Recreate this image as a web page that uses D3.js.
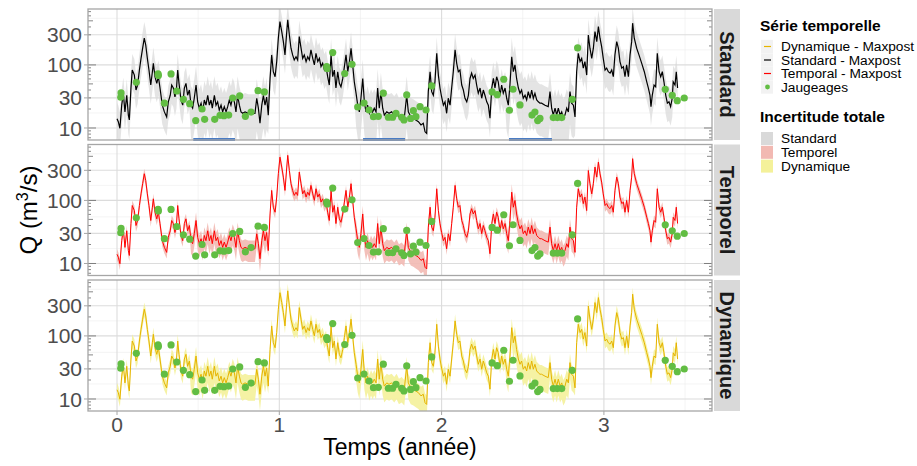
<!DOCTYPE html>
<html>
<head>
<meta charset="utf-8">
<script src="https://cdn.jsdelivr.net/npm/d3@7"></script>
<style>
  body { margin: 0; background: #fff; }
  svg { font-family: "Liberation Sans", Arial, sans-serif; }
</style>
</head>
<body>
<div id="chart"></div>
<script>
// --- données ---
const panneaux = ["Standard", "Temporel", "Dynamique"];

const temps = [0.000,0.008,0.018,0.029,0.039,0.049,0.060,0.070,0.076,0.086,0.094,0.107,0.117,0.127,0.138,0.148,0.158,0.168,0.177,0.187,
  0.197,0.208,0.218,0.224,0.234,0.245,0.255,0.265,0.279,0.292,0.306,0.316,0.328,0.337,0.347,0.357,0.366,0.374,0.382,0.394,
  0.405,0.415,0.425,0.435,0.446,0.456,0.466,0.476,0.487,0.497,0.507,0.518,0.528,0.538,0.548,0.559,0.569,0.579,0.587,0.600,
  0.610,0.620,0.630,0.641,0.651,0.661,0.672,0.682,0.692,0.702,0.713,0.723,0.733,0.743,0.754,0.764,0.774,0.789,0.809,0.830,
  0.850,0.861,0.871,0.881,0.892,0.902,0.912,0.922,0.932,0.943,0.953,0.963,0.974,0.984,0.994,1.004,1.015,1.025,1.035,1.046,
  1.052,1.062,1.072,1.082,1.092,1.103,1.113,1.123,1.134,1.144,1.154,1.165,1.175,1.185,1.195,1.206,1.216,1.226,1.237,1.247,
  1.257,1.267,1.278,1.288,1.298,1.308,1.319,1.329,1.339,1.349,1.360,1.370,1.380,1.391,1.401,1.411,1.422,1.432,1.442,1.452,
  1.462,1.473,1.483,1.493,1.503,1.514,1.524,1.534,1.544,1.555,1.565,1.575,1.585,1.596,1.606,1.616,1.626,1.637,1.647,1.662,
  1.676,1.692,1.708,1.723,1.737,1.754,1.770,1.785,1.795,1.810,1.826,1.841,1.857,1.873,1.887,1.898,1.908,1.918,1.929,1.939,
  1.949,1.959,1.970,1.980,1.990,2.000,2.011,2.021,2.031,2.041,2.052,2.062,2.072,2.083,2.093,2.103,2.113,2.124,2.134,2.144,
  2.155,2.165,2.175,2.185,2.195,2.206,2.216,2.226,2.237,2.247,2.257,2.267,2.278,2.288,2.298,2.309,2.319,2.329,2.339,2.349,
  2.360,2.370,2.380,2.391,2.401,2.411,2.421,2.432,2.442,2.452,2.462,2.473,2.483,2.493,2.503,2.514,2.524,2.534,2.545,2.555,
  2.565,2.575,2.586,2.596,2.606,2.616,2.637,2.657,2.668,2.678,2.688,2.699,2.709,2.719,2.730,2.740,2.750,2.760,2.771,2.781,
  2.791,2.801,2.812,2.822,2.832,2.842,2.853,2.863,2.873,2.883,2.894,2.904,2.914,2.925,2.935,2.945,2.956,2.966,2.976,2.986,
  2.996,3.007,3.017,3.027,3.038,3.048,3.058,3.068,3.079,3.089,3.099,3.110,3.120,3.130,3.140,3.151,3.161,3.171,3.177,3.187,
  3.202,3.216,3.233,3.249,3.264,3.274,3.284,3.290,3.298,3.309,3.319,3.329,3.340,3.350,3.360,3.370,3.381,3.391,3.401,3.411,
  3.421,3.427,3.438,3.446,3.454];

// débit maxpost (m3/s) - les trois modèles se superposent quasiment
const qMaxpost = [14,12.6,9.9,23,35,18,33,16,13.4,43,83,69,40,48,83,127,184,265,207,127,
  83,48,78,106,65,51,65,43,23,18,15,26,33,48,43,31,40,83,51,28,
  23,43,51,33,40,23,20.6,29.6,48,26,20.6,24.7,18,27.8,23,33,23,27.8,20.6,33,
  23,26,19.3,23,18,21.8,18,21.8,27.8,23,31,26,18,33,23,18,17.1,18,17.1,17.1,
  17.1,29.6,20.6,11.9,23,33,23,31,16,61,144,78,65,113,265,485,338,234,144,338,
  518,298,184,144,120,135,120,281,184,127,144,113,135,120,173,127,100,153,113,127,
  94,106,83,94,65,48,144,65,83,43,78,51,45,61,94,144,78,113,184,100,
  54,35.5,23,18,29.6,61,26,18,23,17.1,20.6,18,20.6,18,43,20.6,37.7,20.6,16,18,
  17.1,18,16,18,15,16,14.3,33,18,15,14.3,13.4,12.6,11.2,11.9,8.7,8.2,37.7,78,37.7,
  33,54,153,69,43,31,23,26,17.1,29.6,23,43,78,173,106,78,83,48,40,29.6,
  26,33,61,74,61,69,48,35.5,43,29.6,40,33,26,23,14.3,43,61,43,65,54,
  33,48,35.5,43,29.6,23,48,135,78,100,61,43,35.5,40,29.6,33,27.8,37.7,29.6,40,
  29.6,35.5,27.8,26,24.7,24.7,23,21.8,37.7,20.6,16,20.6,16,20.6,16,18,14.3,16,20.6,18,
  37.7,24.7,23,15,78,153,113,127,89,113,69,298,184,127,184,338,234,405,265,195,
  127,83,89,78,74,83,65,144,234,184,113,89,94,65,100,65,144,234,459,265,
  184,144,106,78,54,43,33,21.8,33,48,45,153,78,65,78,54,33,24.7,26,21.8,
  29.6,54,48,78,43];

// jaugeages
const tJaug = [0.023,0.025,0.119,0.253,0.255,0.292,0.333,0.368,0.409,0.448,0.485,0.524,0.540,0.602,0.635,0.659,0.688,0.713,0.756,0.791,
  0.826,0.869,0.908,1.292,1.295,1.329,1.403,1.448,1.483,1.522,1.553,1.580,1.610,1.641,1.672,1.698,1.719,1.754,1.768,1.785,
  1.809,1.826,1.842,1.867,1.904,1.939,2.311,2.343,2.383,2.418,2.440,2.483,2.557,2.575,2.592,2.606,2.688,2.713,2.740,2.805,
  2.838,3.378,3.421,3.452,3.495];
const qJaug = [30.7,36,53,72,68,24.7,72,38.6,28.5,24.3,13.1,20,13.7,13.7,15.9,15.7,16,29.9,32.2,15.3,
  17.9,39,37.3,94,88,157,72.8,102,21.5,24.9,19.3,15.1,15.3,35.6,14.8,14.8,17.1,14.8,13.4,33.4,
  14.2,18.8,15.1,21.8,19.3,46.4,37.3,33.8,59.3,19.1,41.1,23.2,16,17.9,13.1,14.2,14.6,14.6,14.6,28.5,
  186,41,33,27.1,29.9];

// saisons (début) et type : crue / étiage
const saisonDebut = [0, 0.45, 0.93, 1.47, 1.92, 2.40, 2.82];
const saisonEtiage = [false, true, false, true, false, true, false];

// facteurs de l'incertitude totale [Standard, Temporel, Dynamique]
const basCrue = [0.5, 0.8, 0.76];
const hautCrue = [1.8, 1.2, 1.28];
const basEtiage = [0.3, 0.62, 0.55];
const hautEtiage = [2.0, 1.35, 1.4];

// périodes en bleu (panneau Standard)
const periodesDebut = [0.47, 1.516, 2.415];
const periodesFin = [0.727, 1.775, 2.68];

const xTicks = [0, 1, 2, 3];
const yTicks = [10, 30, 100, 300];

const couleurLigne = ["#000000", "#ff0000", "#e6b400"];
const couleurBande = ["#d9d9d9", "#f2b9b2", "#f4f19a"];
const couleurJaug = "#62bd43";

// --- mise en page ---
const width = 917, height = 466;
const left = 88, right = 712, panelH = 131;
const tops = [9, 144.5, 280];

const svg = d3.select("#chart").append("svg")
    .attr("width", width).attr("height", height);

const x = d3.scaleLinear().domain([-0.1787, 3.666]).range([left, right]);
const y = d3.scaleLog().domain([6.45, 770]).range([panelH, 0]);

function etiage(t) {
    let k = 0;
    saisonDebut.forEach((d, i) => { if (t >= d) k = i; });
    return saisonEtiage[k];
}

const serie = temps.map((t, i) => ({t: t, q: qMaxpost[i], e: etiage(t)}));
const jaug = tJaug.map((t, i) => ({t: t, q: qJaug[i]}));

const xMinor = [-0.5, 0.5, 1.5, 2.5, 3.5];
const yMinor = [17.3, 54.8, 173, 548];
const logTicks = [];
[1, 10, 100].forEach(p => d3.range(1, 10).forEach(m => {
    const v = m * p;
    if (v >= 6.45 && v <= 770) logTicks.push({v: v, len: m === 1 ? 8 : (m === 5 ? 5 : 3)});
}));

panneaux.forEach((nom, k) => {
    const g = svg.append("g").attr("transform", "translate(0," + tops[k] + ")");

    g.append("clipPath").attr("id", "clip" + k)
      .append("rect").attr("x", left).attr("y", 0).attr("width", right - left).attr("height", panelH);

    // grille
    g.selectAll(".gmx").data(xMinor.filter(d => x(d) > left && x(d) < right)).enter().append("line")
        .attr("x1", d => x(d)).attr("x2", d => x(d)).attr("y1", 0).attr("y2", panelH)
        .attr("stroke", "#ededed").attr("stroke-width", 0.6);
    g.selectAll(".gmy").data(yMinor).enter().append("line")
        .attr("x1", left).attr("x2", right).attr("y1", d => y(d)).attr("y2", d => y(d))
        .attr("stroke", "#ededed").attr("stroke-width", 0.6);
    g.selectAll(".gx").data(xTicks).enter().append("line")
        .attr("x1", d => x(d)).attr("x2", d => x(d)).attr("y1", 0).attr("y2", panelH)
        .attr("stroke", "#dcdcdc").attr("stroke-width", 1.1);
    g.selectAll(".gy").data(yTicks).enter().append("line")
        .attr("x1", left).attr("x2", right).attr("y1", d => y(d)).attr("y2", d => y(d))
        .attr("stroke", "#dcdcdc").attr("stroke-width", 1.1);

    const plot = g.append("g").attr("clip-path", "url(#clip" + k + ")");

    // bande d'incertitude
    const bande = d3.area()
        .x(d => x(d.t))
        .y0(d => y(d.q * (d.e ? basEtiage[k] : basCrue[k])))
        .y1(d => y(d.q * (d.e ? hautEtiage[k] : hautCrue[k])));
    plot.append("path").datum(serie)
        .attr("d", bande)
        .attr("fill", couleurBande[k])
        .attr("fill-opacity", k === 0 ? 0.7 : 0.9);

    // maxpost
    plot.append("path").datum(serie)
        .attr("d", d3.line().x(d => x(d.t)).y(d => y(d.q)))
        .attr("fill", "none")
        .attr("stroke", couleurLigne[k])
        .attr("stroke-width", k === 0 ? 1.2 : 1);

    // jaugeages
    plot.selectAll("circle").data(jaug).enter().append("circle")
        .attr("cx", d => x(d.t)).attr("cy", d => y(d.q)).attr("r", 3.6)
        .attr("fill", couleurJaug);

    if (k === 0) {
        g.selectAll(".per").data(periodesDebut).enter().append("line")
            .attr("x1", d => x(d)).attr("x2", (d, i) => x(periodesFin[i]))
            .attr("y1", panelH - 0.5).attr("y2", panelH - 0.5)
            .attr("stroke", "#4a7cc4").attr("stroke-width", 3);
    }

    // graduations logarithmiques (gauche et droite)
    g.selectAll(".ltl").data(logTicks).enter().append("line")
        .attr("x1", left).attr("x2", d => left + d.len).attr("y1", d => y(d.v)).attr("y2", d => y(d.v))
        .attr("stroke", "#555").attr("stroke-width", 0.7);
    g.selectAll(".ltr").data(logTicks).enter().append("line")
        .attr("x1", right).attr("x2", d => right - d.len).attr("y1", d => y(d.v)).attr("y2", d => y(d.v))
        .attr("stroke", "#555").attr("stroke-width", 0.7);

    // cadre
    g.append("rect").attr("x", left).attr("y", 0).attr("width", right - left).attr("height", panelH)
        .attr("fill", "none").attr("stroke", "#a6a6a6").attr("stroke-width", 1.3);

    // axe y
    g.selectAll(".ty").data(yTicks).enter().append("line")
        .attr("x1", left - 4).attr("x2", left).attr("y1", d => y(d)).attr("y2", d => y(d))
        .attr("stroke", "#a6a6a6").attr("stroke-width", 1);
    g.selectAll(".ly").data(yTicks).enter().append("text")
        .attr("x", left - 6).attr("y", d => y(d)).attr("dy", "0.36em")
        .attr("text-anchor", "end").attr("font-size", 21).attr("fill", "#4d4d4d")
        .text(d => d);

    // bandeau
    g.append("rect").attr("x", 714).attr("y", 0).attr("width", 26).attr("height", panelH)
        .attr("fill", "#d9d9d9");
    g.append("text")
        .attr("transform", "translate(727," + (panelH / 2) + ") rotate(90)")
        .attr("text-anchor", "middle").attr("dy", "0.36em")
        .attr("font-size", 20).attr("font-weight", "bold").attr("fill", "#1a1a1a")
        .text(nom);
});

// axe x
const bas = tops[2] + panelH;
svg.selectAll(".tx").data(xTicks).enter().append("line")
    .attr("x1", d => x(d)).attr("x2", d => x(d)).attr("y1", bas).attr("y2", bas + 4)
    .attr("stroke", "#a6a6a6");
svg.selectAll(".lx").data(xTicks).enter().append("text")
    .attr("x", d => x(d)).attr("y", bas + 21)
    .attr("text-anchor", "middle").attr("font-size", 21).attr("fill", "#4d4d4d")
    .text(d => d);

svg.append("text").attr("x", (left + right) / 2).attr("y", 455)
    .attr("text-anchor", "middle").attr("font-size", 23).attr("fill", "#000")
    .text("Temps (année)");

const yt = svg.append("text")
    .attr("transform", "translate(37," + ((tops[0] + bas) / 2) + ") rotate(-90)")
    .attr("text-anchor", "middle").attr("font-size", 24).attr("fill", "#000");
yt.append("tspan").text("Q (m");
yt.append("tspan").attr("font-size", 16).attr("dy", -9).text("3");
yt.append("tspan").attr("dy", 9).text("/s)");

// légende
const leg = svg.append("g").attr("font-size", 13.7);
leg.append("text").attr("x", 760).attr("y", 31).attr("font-size", 15.5).attr("font-weight", "bold")
    .text("Série temporelle");
const legSeries = ["Dynamique - Maxpost", "Standard - Maxpost", "Temporal - Maxpost", "Jaugeages"];
const legCouleurs = ["#e6b400", "#000000", "#ff0000", couleurJaug];
legSeries.forEach((s, i) => {
    const cy = 46.5 + i * 13.5;
    leg.append("rect").attr("x", 761).attr("y", cy - 6.7).attr("width", 12).attr("height", 13.4).attr("fill", "#f2f2f2");
    if (i < 3) {
        leg.append("line").attr("x1", 764).attr("x2", 771).attr("y1", cy).attr("y2", cy)
            .attr("stroke", legCouleurs[i]).attr("stroke-width", 1.2);
    } else {
        leg.append("circle").attr("cx", 767.5).attr("cy", cy).attr("r", 2.4).attr("fill", legCouleurs[i]);
    }
    leg.append("text").attr("x", 781).attr("y", cy).attr("dy", "0.36em").text(s);
});

leg.append("text").attr("x", 760).attr("y", 122).attr("font-size", 15.5).attr("font-weight", "bold")
    .text("Incertitude totale");
const legBandes = ["Standard", "Temporel", "Dynamique"];
legBandes.forEach((s, i) => {
    const cy = 138.5 + i * 13.8;
    leg.append("rect").attr("x", 761).attr("y", cy - 6.5).attr("width", 12).attr("height", 13)
        .attr("fill", couleurBande[i]);
    leg.append("text").attr("x", 781).attr("y", cy).attr("dy", "0.36em").text(s);
});
</script>
</body>
</html>
